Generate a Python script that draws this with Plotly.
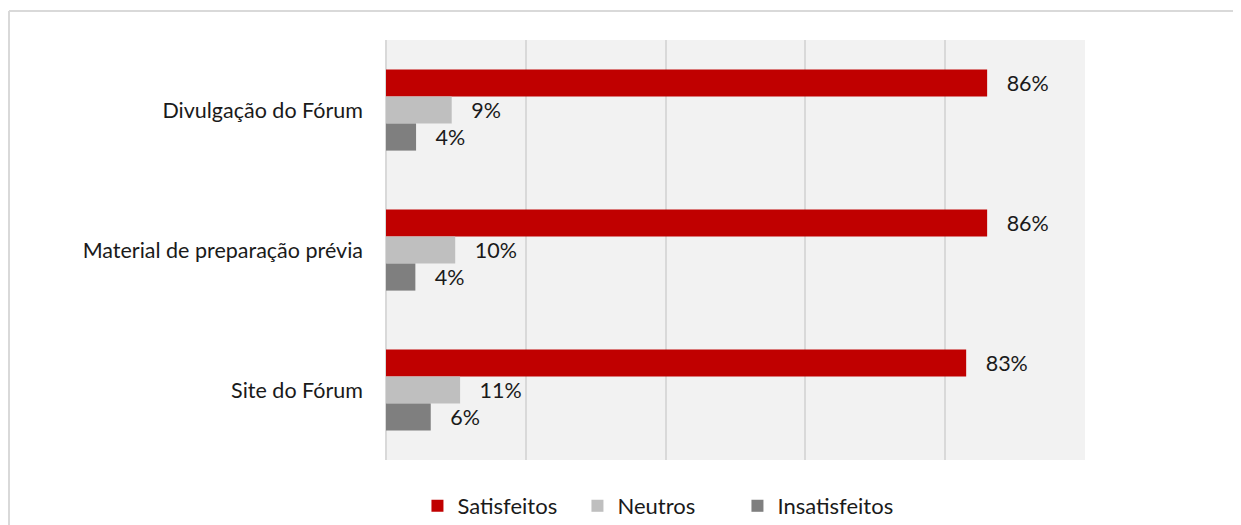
import plotly.graph_objects as go

categories = ["Divulgação do Fórum", "Material de preparação prévia", "Site do Fórum"]
satisfeitos = [0.86, 0.86, 0.83]
neutros = [0.094, 0.099, 0.106]
insatisfeitos = [0.043, 0.042, 0.064]
series_names = ["Satisfeitos", "Neutros", "Insatisfeitos"]
colors = ["#C00000", "#BFBFBF", "#7F7F7F"]

W, H = 1233, 517
L, R, T, B = 378, 156, 32, 65

fig = go.Figure()
for name, vals, col in zip(series_names, [satisfeitos, neutros, insatisfeitos], colors):
    fig.add_trace(go.Bar(
        y=categories, x=vals, name=name, orientation="h",
        marker=dict(color=col, line=dict(width=0)),
        texttemplate="\u00a0\u00a0\u00a0%{x:.0%}", textposition="outside",
        textfont=dict(size=21.5, color="#1a1a1a", family="Lato"),
        cliponaxis=False,
    ))

pw = W - L - R
ph = H - T - B
bx0 = (1 - L) / pw
by1 = 1 + (T - 3) / ph

fig.update_layout(
    width=W, height=H,
    margin=dict(l=L, r=R, t=T, b=B, autoexpand=False),
    barmode="group", bargap=0.42, bargroupgap=0,
    plot_bgcolor="#F2F2F2", paper_bgcolor="white",
    font=dict(family="Lato", size=21.5, color="#1a1a1a"),
    showlegend=True,
    legend=dict(orientation="h", x=0.045, xanchor="left",
                yref="container", y=1 - 498 / H, yanchor="middle",
                font=dict(size=22, color="#1a1a1a"), traceorder="normal",
                itemwidth=30, entrywidth=115, entrywidthmode="pixels"),
    xaxis=dict(range=[0, 1], dtick=0.2, showgrid=True, gridcolor="#D9D9D9", gridwidth=2,
               showticklabels=False, zeroline=True, zerolinecolor="#D9D9D9", zerolinewidth=2,
               showline=False, fixedrange=True),
    yaxis=dict(autorange="reversed", showgrid=False, ticks="", ticklabelstandoff=22,
               tickfont=dict(size=21.5, color="#1a1a1a"), showline=False),
    shapes=[
        dict(type="line", xref="paper", yref="paper", x0=bx0, x1=1.5, y0=by1, y1=by1,
             line=dict(color="#D9D9D9", width=2)),
        dict(type="line", xref="paper", yref="paper", x0=bx0, x1=bx0, y0=by1, y1=-0.5,
             line=dict(color="#D9D9D9", width=2)),
    ],
)

fig.write_html("out.html")
